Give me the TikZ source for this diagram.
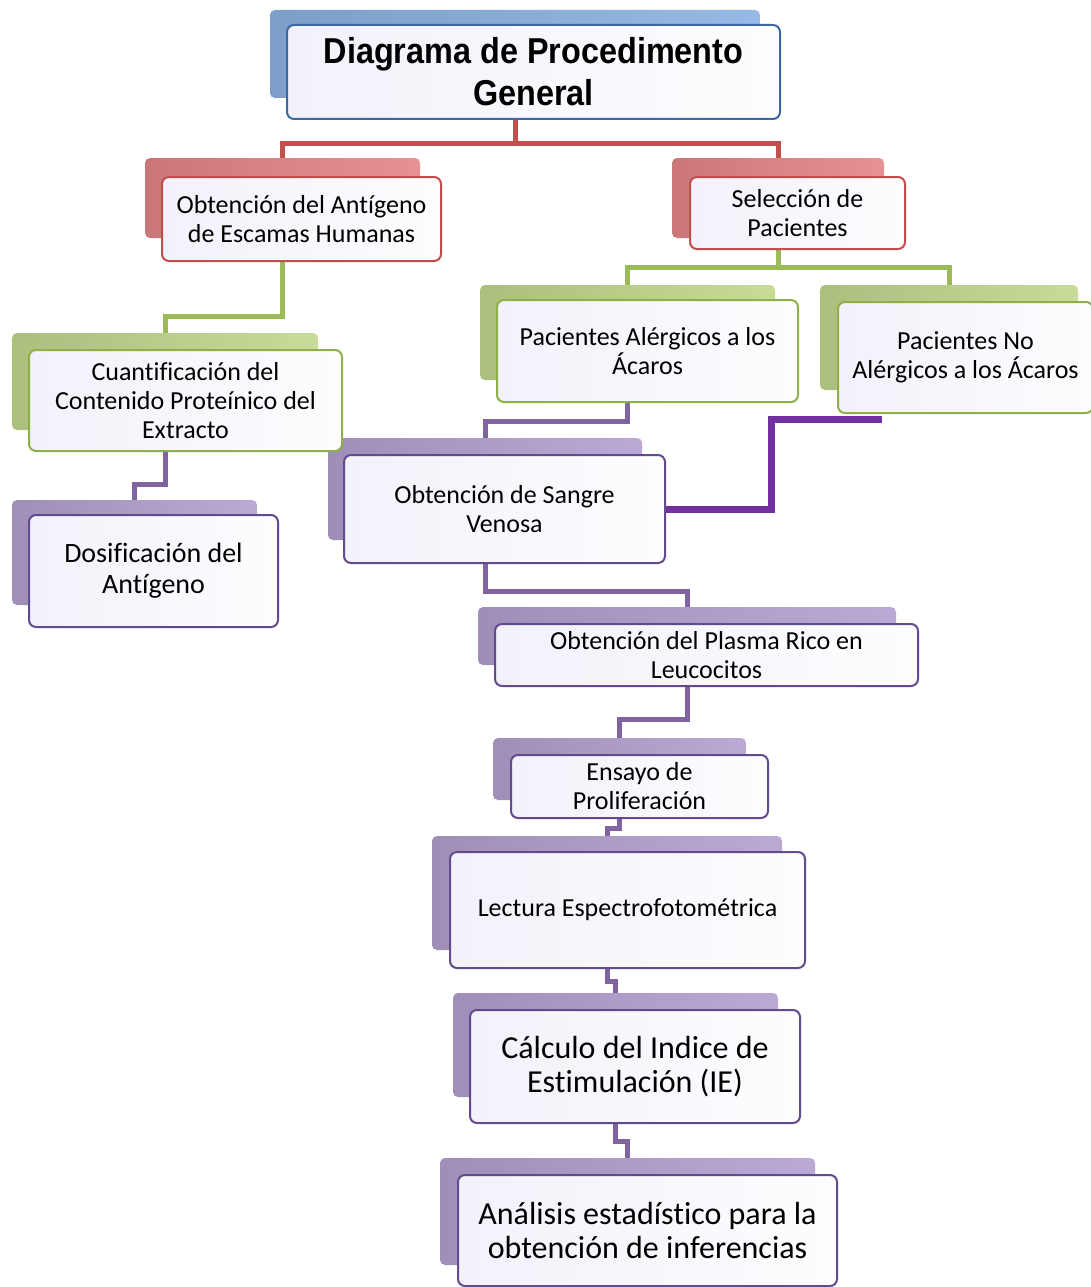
\documentclass[tikz,border=0pt]{standalone}
\usepackage{fontspec}
\setmainfont[Ligatures=NoCommon]{Carlito}
\newfontfamily\titlefont[FakeStretch=0.9]{Liberation Sans}
\usetikzlibrary{backgrounds}

\definecolor{tabblue}{HTML}{8DB4E3}
\definecolor{tabred}{HTML}{E6878A}
\definecolor{tabgreen}{HTML}{C3D98E}
\definecolor{tabpurple}{HTML}{B4A2D1}
\definecolor{bordblue}{HTML}{3D679E}
\definecolor{bordred}{HTML}{BF4E4C}
\definecolor{bordgreen}{HTML}{8DB04A}
\definecolor{bordpurple}{HTML}{624B8C}
\definecolor{linered}{HTML}{C0504D}
\definecolor{linegreen}{HTML}{9BBB59}
\definecolor{linepurple}{HTML}{8064A2}
\definecolor{linedark}{HTML}{7030A0}
\definecolor{frontleft}{HTML}{F3F1FA}
\definecolor{frontright}{HTML}{FDFDFF}

\tikzset{
  tab/.style={rectangle, rounded corners=5pt, inner sep=0pt,
    left color=#1!88!black, right color=#1!92},
  box/.style={rectangle, rounded corners=7pt, draw=#1, line width=2pt,
    left color=frontleft, right color=frontright, align=center, inner sep=2pt},
  link/.style={draw=#1, line width=5pt},
  smalltext/.style={font=\fontsize{26}{29}\selectfont},
  midtext/.style={font=\fontsize{28}{31}\selectfont},
  bigtext/.style={font=\fontsize{32}{34}\selectfont},
}

\begin{document}
\begin{tikzpicture}[x=1pt, y=-1pt]
  \useasboundingbox (0,0) rectangle (1091,1287);
  % Back tabs
  \node[tab=tabblue, minimum width=490, minimum height=88] (t1) at (515,54) {};
  \node[tab=tabred, minimum width=275, minimum height=80] (t2) at (282.5,198) {};
  \node[tab=tabred, minimum width=212, minimum height=80] (t3) at (778,198) {};
  \node[tab=tabgreen, minimum width=295, minimum height=95] (t4) at (627.5,332.5) {};
  \node[tab=tabgreen, minimum width=258, minimum height=105] (t5) at (949,337.5) {};
  \node[tab=tabgreen, minimum width=306, minimum height=97] (t6) at (165,381.5) {};
  \node[tab=tabpurple, minimum width=245, minimum height=105] (t7) at (134.5,552.5) {};
  \node[tab=tabpurple, minimum width=314, minimum height=102] (t8) at (485,489) {};
  \node[tab=tabpurple, minimum width=418, minimum height=58] (t9) at (687,636) {};
  \node[tab=tabpurple, minimum width=253, minimum height=62] (t10) at (619.5,769) {};
  \node[tab=tabpurple, minimum width=350, minimum height=114] (t11) at (607,893) {};
  \node[tab=tabpurple, minimum width=325, minimum height=104] (t12) at (615.5,1045) {};
  \node[tab=tabpurple, minimum width=375, minimum height=107] (t13) at (627.5,1211.5) {};
  % Front boxes
  \node[box=bordblue, minimum width=493, minimum height=94,
    font=\titlefont\bfseries\fontsize{36}{42}\selectfont] (n1) at (533.5,72)
    {Diagrama de Procedimento\\General};
  \node[box=bordred, smalltext, minimum width=279, minimum height=84] (n2) at (301.5,219)
    {Obtención del Antígeno\\de Escamas Humanas};
  \node[box=bordred, smalltext, minimum width=215, minimum height=72] (n3) at (797.5,213)
    {Selección de\\Pacientes};
  \node[box=bordgreen, smalltext, minimum width=301, minimum height=102] (n4) at (647.5,351)
    {Pacientes Alérgicos a los\\Ácaros};
  \node[box=bordgreen, smalltext, minimum width=255, minimum height=111] (n5) at (965.5,357.5)
    {Pacientes No\\Alérgicos a los Ácaros};
  \node[box=bordpurple, midtext, minimum width=249, minimum height=112] (n7) at (153.5,571)
    {Dosificación del\\Antígeno};
  \node[box=bordpurple, smalltext, minimum width=321, minimum height=108] (n8) at (504.5,509)
    {Obtención de Sangre\\Venosa};
  \node[box=bordgreen, smalltext, minimum width=313, minimum height=101] (n6) at (185.5,400.5)
    {Cuantificación del\\Contenido Proteínico del\\Extracto};
  \node[box=bordpurple, smalltext, minimum width=423, minimum height=62] (n9) at (706.5,655)
    {Obtención del Plasma Rico en\\Leucocitos};
  \node[box=bordpurple, smalltext, minimum width=257, minimum height=63] (n10) at (639.5,786.5)
    {Ensayo de\\Proliferación};
  \node[box=bordpurple, smalltext, minimum width=355, minimum height=116] (n11) at (627.5,910)
    {Lectura Espectrofotométrica};
  \node[box=bordpurple, bigtext, minimum width=330, minimum height=113] (n12) at (635,1066.5)
    {Cálculo del Indice de\\Estimulación (IE)};
  \node[box=bordpurple, bigtext, minimum width=379, minimum height=111] (n13) at (647.5,1230.5)
    {Análisis estadístico para la\\obtención de inferencias};
  \coordinate (nafoot) at (882,419);
  % Connectors (behind the boxes)
  \begin{scope}[on background layer]
    \draw[link=linered] (t1 |- n1.south) -- ++(0,23) -| (t2.north);
    \draw[link=linered] (t1 |- n1.south) -- ++(0,23) -| (t3.north);
    \draw[link=linegreen] (t2 |- n2.south) -- ++(0,54) -| (t6.north);
    \draw[link=linegreen] (t3 |- n3.south) -- ++(0,17) -| (t4.north);
    \draw[link=linegreen] (t3 |- n3.south) -- ++(0,17) -| (t5.north);
    \draw[link=linepurple] (t6 |- n6.south) -- ++(0,32) -| (t7.north);
    \draw[link=linepurple] (t4 |- n4.south) -- ++(0,18) -| (t8.north);
    \draw[link=linepurple] (t8 |- n8.south) -- ++(0,27) -| (t9.north);
    \draw[link=linepurple] (t9 |- n9.south) -- ++(0,32) -| (t10.north);
    \draw[link=linepurple] (t10 |- n10.south) -- ++(0,9) -| (t11.north);
    \draw[link=linepurple] (t11 |- n11.south) -- ++(0,12) -| (t12.north);
    \draw[link=linepurple] (t12 |- n12.south) -- ++(0,17) -| (t13.north);
    \draw[link=linedark, line width=7pt] (nafoot) -| ([xshift=105]n8.east) -- (n8.east);
  \end{scope}
\end{tikzpicture}
\end{document}
